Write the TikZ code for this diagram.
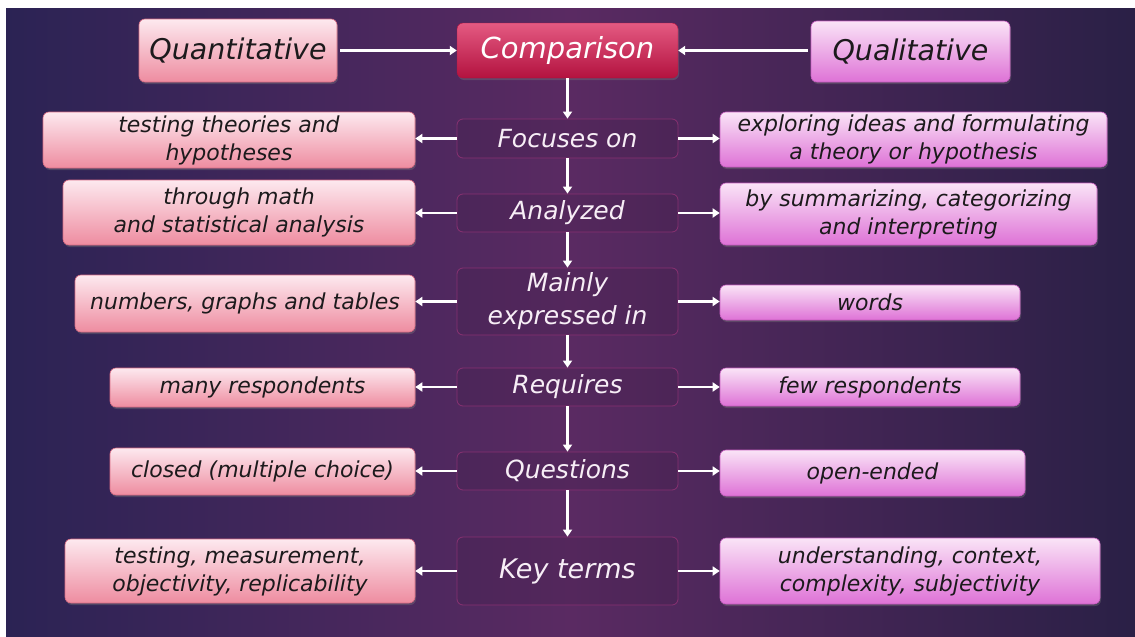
\documentclass[tikz,border=0pt]{standalone}
\usepackage{fontspec}
\setmainfont{DejaVu Sans}
\usetikzlibrary{arrows.meta,shadows}
\definecolor{bgL}{HTML}{2B2354}
\definecolor{bgM}{HTML}{5A2A62}
\definecolor{bgR}{HTML}{2A2046}
\definecolor{pinkT}{HTML}{FDE9EF}
\definecolor{pinkB}{HTML}{EE8CA0}
\definecolor{pinkD}{HTML}{D96C84}
\definecolor{magT}{HTML}{FAE4F7}
\definecolor{magB}{HTML}{DE72D6}
\definecolor{magD}{HTML}{C75DC0}
\definecolor{crimT}{HTML}{E45A82}
\definecolor{crimB}{HTML}{B3123F}
\definecolor{cenD}{HTML}{8E3274}
\definecolor{txtD}{HTML}{1C1A1C}
\definecolor{txtL}{HTML}{F7EEF6}
\tikzset{
  x=1pt, y=-1pt,
  sidetext/.style={font=\itshape\fontsize{22}{28}\selectfont, text=txtD, align=center, inner sep=0pt},
  lbox/.style={sidetext, rounded corners=6pt, top color=pinkT, bottom color=pinkB, draw=pinkD, line width=0.6pt,
     drop shadow={shadow xshift=1pt, shadow yshift=-2pt, opacity=0.35}},
  rbox/.style={sidetext, rounded corners=6pt, top color=magT, bottom color=magB, draw=magD, line width=0.6pt,
     drop shadow={shadow xshift=1pt, shadow yshift=-2pt, opacity=0.35}},
  cbox/.style={font=\itshape\fontsize{25}{33}\selectfont, text=txtL, align=center, inner sep=0pt,
     rounded corners=6pt, fill=black, fill opacity=0.06, text opacity=1, draw=cenD, draw opacity=0.9, line width=0.8pt,
     minimum width=221pt},
  titlebox/.style={font=\itshape\fontsize{28.5}{34}\selectfont, text=txtD, align=center, inner sep=0pt},
  arr/.style={draw=white, line width=2.8pt, -{Triangle[width=9pt,length=7pt]}},
}
\begin{document}
\begin{tikzpicture}
\useasboundingbox (0,0) rectangle (1135,637);
\fill[white] (0,0) rectangle (1135,637);
\shade[left color=bgL, right color=bgR, middle color=bgM] (6,8) rectangle (1135,637);

% top row
\node[titlebox, lbox, font=\itshape\fontsize{28.5}{34}\selectfont, minimum width=198pt, minimum height=63pt] (quan) at (238,50.5) {Quantitative};
\node[titlebox, rbox, font=\itshape\fontsize{28.5}{34}\selectfont, minimum width=199pt, minimum height=61pt] (qual) at (910.5,51.5) {Qualitative};
\node[font=\itshape\fontsize{29}{34}\selectfont, text=white, inner sep=0pt, rounded corners=6pt,
      top color=crimT, bottom color=crimB, draw=crimB, minimum width=221pt, minimum height=55pt,
      drop shadow={shadow xshift=1pt, shadow yshift=-2pt, opacity=0.35}] (comp) at (567.5,50.5) {Comparison};

% centre column
\node[cbox, minimum height=39pt] (c1) at (567.5,138.5) {Focuses on};
\node[cbox, minimum height=38pt] (c2) at (567.5,213) {Analyzed};
\node[cbox, minimum height=67pt] (c3) at (567.5,301.5) {Mainly\\expressed in};
\node[cbox, minimum height=38pt] (c4) at (567.5,387) {Requires};
\node[cbox, minimum height=38pt] (c5) at (567.5,471) {Questions};
\node[cbox, font=\itshape\fontsize{27}{33}\selectfont, minimum height=68pt] (c6) at (567.5,571) {Key terms};

% left column
\node[lbox, minimum width=372pt, minimum height=56pt] (l1) at (229,140) {testing theories and\\hypotheses};
\node[lbox, minimum width=352pt, minimum height=65pt] (l2) at (239,212.5) {through math\\and statistical analysis};
\node[lbox, minimum width=340pt, minimum height=57pt] (l3) at (245,303.5) {numbers, graphs and tables};
\node[lbox, minimum width=305pt, minimum height=39pt] (l4) at (262.5,387.5) {many respondents};
\node[lbox, minimum width=305pt, minimum height=47pt] (l5) at (262.5,471.5) {closed (multiple choice)};
\node[lbox, minimum width=350pt, minimum height=64pt] (l6) at (240,571) {testing, measurement,\\objectivity, replicability};

% right column
\node[rbox, minimum width=387pt, minimum height=55pt] (r1) at (913.5,139.5) {exploring ideas and formulating\\a theory or hypothesis};
\node[rbox, minimum width=377pt, minimum height=62pt] (r2) at (908.5,214) {by summarizing, categorizing\\and interpreting};
\node[rbox, minimum width=300pt, minimum height=35pt] (r3) at (870,302.5) {words};
\node[rbox, minimum width=300pt, minimum height=38pt] (r4) at (870,387) {few respondents};
\node[rbox, minimum width=305pt, minimum height=46pt] (r5) at (872.5,473) {open-ended};
\node[rbox, minimum width=380pt, minimum height=66pt] (r6) at (910,571) {understanding, context,\\complexity, subjectivity};

% arrows
\draw[arr, shorten <=3pt] (quan.east) -- (comp.west);
\draw[arr, shorten <=3pt] (qual.west |- comp.east) -- (comp.east);
\draw[arr] (comp.south) -- (c1.north);
\draw[arr] (c1.south) -- (c2.north);
\draw[arr] (c2.south) -- (c3.north);
\draw[arr] (c3.south) -- (c4.north);
\draw[arr] (c4.south) -- (c5.north);
\draw[arr] (c5.south) -- (c6.north);
\foreach \i in {1,...,6}{
  \draw[arr] (c\i.west) -- (l\i.east |- c\i.west);
  \draw[arr] (c\i.east) -- (r\i.west |- c\i.east);
}
\end{tikzpicture}
\end{document}
